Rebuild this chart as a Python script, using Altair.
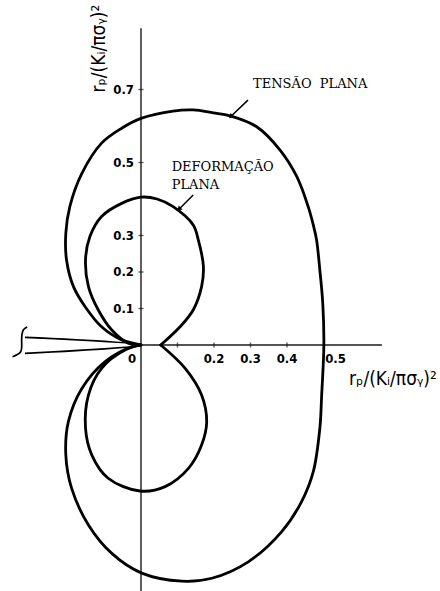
import altair as alt
import pandas as pd

# Plane stress plastic-zone boundary (r_p/(K_I/pi sigma_Y)^2), traced from the crack tip
# up the left side, over the top, down the right side and back round the lower half.
ps_x = [0.0, -0.053, -0.108, -0.153, -0.185, -0.204, -0.206, -0.195, -0.162, -0.108,
        -0.053, 0.0, 0.088, 0.143, 0.198, 0.244, 0.317, 0.381, 0.427, 0.458,
        0.472, 0.481, 0.490, 0.498, 0.501, 0.495, 0.490, 0.472, 0.440, 0.385,
        0.294, 0.194, 0.112, 0.002, -0.080, -0.144, -0.190, -0.206, -0.199, -0.162,
        -0.099, -0.025, 0.0]
ps_y = [0.0, 0.014, 0.050, 0.105, 0.160, 0.233, 0.306, 0.379, 0.470, 0.553,
        0.594, 0.621, 0.641, 0.644, 0.636, 0.628, 0.598, 0.534, 0.461, 0.379,
        0.329, 0.288, 0.205, 0.114, 0.0, -0.137, -0.228, -0.347, -0.429, -0.512,
        -0.594, -0.639, -0.647, -0.625, -0.571, -0.493, -0.393, -0.301, -0.210, -0.119,
        -0.046, -0.005, 0.0]

# Plane strain plastic-zone boundary: upper lobe (crack tip -> point on the x axis)
pe_up_x = [0.0, -0.035, -0.080, -0.117, -0.144, -0.152, -0.140, -0.108, -0.053, 0.0,
           0.044, 0.088, 0.143, 0.157, 0.171, 0.166, 0.143, 0.107, 0.054]
pe_up_y = [0.0, 0.005, 0.041, 0.096, 0.160, 0.233, 0.297, 0.352, 0.388, 0.405,
           0.400, 0.379, 0.329, 0.288, 0.215, 0.160, 0.096, 0.050, 0.0]
# ... and lower lobe (point on the x axis -> crack tip)
pe_lo_x = [0.054, 0.121, 0.166, 0.180, 0.166, 0.130, 0.066, -0.003, -0.090, -0.135,
           -0.152, -0.144, -0.108, -0.044, 0.0]
pe_lo_y = [0.0, -0.064, -0.137, -0.210, -0.274, -0.338, -0.388, -0.400, -0.365, -0.301,
           -0.228, -0.137, -0.064, -0.014, 0.0]

# Crack faces meeting at the tip, and the break symbol at the crack's far end
crack_x = [-0.318, 0.0, -0.318]
crack_y = [0.021, 0.0, -0.023]
brk_x = [-0.312, -0.322, -0.326, -0.327, -0.327, -0.330, -0.340, -0.352]
brk_y = [0.049, 0.042, 0.030, 0.014, -0.008, -0.019, -0.027, -0.032]

# Axis ticks and their labels
y_ticks = [0.1, 0.2, 0.3, 0.5, 0.7]
y_labels = ["0.1", "0.2", "0.3", "0.5", "0.7"]
x_ticks = [0.1, 0.2, 0.3, 0.4]
x_label_vals = [0.2, 0.3, 0.4]
x_labels = ["0.2", "0.3", "0.4"]

axis_title = "rₚ/(Kᵢ/πσᵧ)²"

# Layout: 365 px per unit, origin at (141, 345) px inside a 440 x 591 view
W, H = 440, 591
PX = 365.0
OX, OY = 141, 345
xs = alt.Scale(domain=[-OX / PX, (W - OX) / PX], nice=False, zero=False)
ys = alt.Scale(domain=[-(H - OY) / PX, OY / PX], nice=False, zero=False)


def X(field="x"):
    return alt.X(f"{field}:Q", scale=xs, axis=None)


def Y(field="y"):
    return alt.Y(f"{field}:Q", scale=ys, axis=None)


def path(name, xv, yv):
    return pd.DataFrame({"curve": name, "x": xv, "y": yv, "i": list(range(len(xv)))})


curves_df = pd.concat([
    path("tensao", ps_x, ps_y),
    path("deformacao_sup", pe_up_x, pe_up_y),
    path("deformacao_inf", pe_lo_x, pe_lo_y),
])
crack_df = pd.concat([path("crack", crack_x, crack_y), path("break", brk_x, brk_y)])

LABEL_FONT = "DejaVu Sans Condensed, DejaVu Sans"
NOTE_FONT = "DejaVu Serif"

axis_h = alt.Chart(pd.DataFrame({"x": [0.0], "x2": [0.66], "y": [0.0]})).mark_rule(
    color="#1a1a1a", strokeWidth=1.4
).encode(x=X(), x2="x2:Q", y=Y())

axis_v = alt.Chart(pd.DataFrame({"x": [0.0], "y": [-0.674], "y2": [0.868]})).mark_rule(
    color="#1a1a1a", strokeWidth=1.4
).encode(x=X(), y=Y(), y2="y2:Q")

yt = alt.Chart(pd.DataFrame({"x": 0.0, "y": y_ticks})).mark_tick(
    orient="horizontal", size=5, thickness=1.4, color="#1a1a1a"
).encode(x=X(), y=Y())

xt = alt.Chart(pd.DataFrame({"x": x_ticks, "y": 0.0})).mark_tick(
    orient="vertical", size=5, thickness=1.4, color="#1a1a1a"
).encode(x=X(), y=Y())

curves = alt.Chart(curves_df).mark_line(
    interpolate="catmull-rom", color="black", strokeWidth=2.8, strokeJoin="round", strokeCap="round"
).encode(x=X(), y=Y(), detail="curve:N", order="i:Q")

crack = alt.Chart(crack_df).mark_line(
    interpolate="catmull-rom", color="black", strokeWidth=1.7
).encode(x=X(), y=Y(), detail="curve:N", order="i:Q")

ylab = alt.Chart(pd.DataFrame({"x": 0.0, "y": y_ticks, "t": y_labels})).mark_text(
    align="right", baseline="middle", dx=-7, font=LABEL_FONT, fontSize=13, fontWeight="bold", color="black"
).encode(x=X(), y=Y(), text="t:N")

xlab = alt.Chart(pd.DataFrame({"x": x_label_vals, "y": 0.0, "t": x_labels})).mark_text(
    align="center", baseline="middle", dy=14, font=LABEL_FONT, fontSize=13, fontWeight="bold", color="black"
).encode(x=X(), y=Y(), text="t:N")

zero_lab = alt.Chart(pd.DataFrame({"x": [0.0], "y": [0.0], "t": ["0"]})).mark_text(
    align="center", baseline="middle", dx=-9, dy=14, font=LABEL_FONT, fontSize=13, fontWeight="bold", color="black"
).encode(x=X(), y=Y(), text="t:N")

half_lab = alt.Chart(pd.DataFrame({"x": [0.5], "y": [0.0], "t": ["0.5"]})).mark_text(
    align="center", baseline="middle", dx=12, dy=14, font=LABEL_FONT, fontSize=13, fontWeight="bold", color="black"
).encode(x=X(), y=Y(), text="t:N")

x_title = alt.Chart(pd.DataFrame({"x": [0.570], "y": [-0.092], "t": [axis_title]})).mark_text(
    align="left", baseline="middle", font=LABEL_FONT, fontSize=19, color="black"
).encode(x=X(), y=Y(), text="t:N")

y_title = alt.Chart(pd.DataFrame({"x": [-0.116], "y": [0.812], "t": [axis_title]})).mark_text(
    align="center", baseline="middle", angle=270, font=LABEL_FONT, fontSize=19, color="black"
).encode(x=X(), y=Y(), text="t:N")

notes = alt.Chart(pd.DataFrame({
    "x": [0.307, 0.084, 0.084],
    "y": [0.703, 0.477, 0.427],
    "t": ["TENSÃO\u00a0\u00a0PLANA", "DEFORMAÇÃO", "PLANA"],
})).mark_text(
    align="left", baseline="alphabetic", font=NOTE_FONT, fontSize=13, color="black"
).encode(x=X(), y=Y(), text="t:N")

leaders_df = pd.DataFrame({
    "curve": ["a", "a", "b", "b"],
    "x": [0.293, 0.246, 0.143, 0.104],
    "y": [0.671, 0.626, 0.411, 0.372],
    "i": [0, 1, 0, 1],
})
leaders = alt.Chart(leaders_df).mark_line(color="black", strokeWidth=1.5).encode(
    x=X(), y=Y(), detail="curve:N", order="i:Q"
)
heads = alt.Chart(pd.DataFrame({"x": [0.246, 0.104], "y": [0.626, 0.372]})).mark_point(
    shape="triangle-up", filled=True, size=30, angle=226, color="black", opacity=1
).encode(x=X(), y=Y())

chart = alt.layer(
    axis_h, axis_v, yt, xt, crack, curves, leaders, heads,
    ylab, xlab, zero_lab, half_lab, x_title, y_title, notes
).properties(
    width=W, height=H, padding=0, autosize=alt.AutoSizeParams(type="none"), background="white"
).configure_view(stroke=None)

chart.save("out.html", embed_options={"renderer": "svg", "actions": False})
